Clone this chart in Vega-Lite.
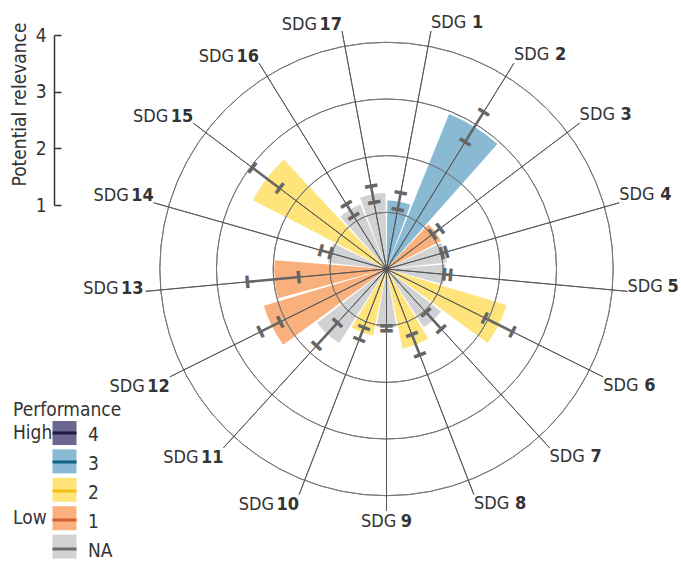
{
 "$schema": "https://vega.github.io/schema/vega-lite/v6.json",
 "width": 589, "height": 538,
 "autosize": {"type": "none"},
 "padding": {"left": 92, "top": 0, "right": 0, "bottom": 24},
 "background": "white",
 "config": {"view": {"stroke": null}},
 "datasets": {
  "sdgs": [
   {"sdg":1,"t0":0,"perf":"3","rel":1.21,"lo":1.05,"hi":1.35},
   {"sdg":2,"t0":1,"perf":"3","rel":2.95,"lo":2.62,"hi":3.24},
   {"sdg":3,"t0":2,"perf":"1","rel":1.08,"lo":1.0,"hi":1.17},
   {"sdg":4,"t0":3,"perf":"NA","rel":1.07,"lo":1.0,"hi":1.08},
   {"sdg":5,"t0":4,"perf":"NA","rel":1.04,"lo":1.01,"hi":1.12},
   {"sdg":6,"t0":5,"perf":"2","rel":2.21,"lo":1.92,"hi":2.47},
   {"sdg":7,"t0":6,"perf":"NA","rel":1.22,"lo":1.02,"hi":1.42},
   {"sdg":8,"t0":7,"perf":"2","rel":1.43,"lo":1.22,"hi":1.61},
   {"sdg":9,"t0":8,"perf":"NA","rel":1.04,"lo":0.98,"hi":1.07},
   {"sdg":10,"t0":9,"perf":"2","rel":1.2,"lo":1.09,"hi":1.32},
   {"sdg":11,"t0":10,"perf":"NA","rel":1.55,"lo":1.27,"hi":1.82},
   {"sdg":12,"t0":11,"perf":"1","rel":2.26,"lo":2.08,"hi":2.47},
   {"sdg":13,"t0":12,"perf":"1","rel":1.98,"lo":1.54,"hi":2.45},
   {"sdg":14,"t0":13,"perf":"NA","rel":1.04,"lo":1.01,"hi":1.19},
   {"sdg":15,"t0":14,"perf":"2","rel":2.65,"lo":2.35,"hi":2.95},
   {"sdg":16,"t0":15,"perf":"NA","rel":1.23,"lo":1.08,"hi":1.33},
   {"sdg":17,"t0":16,"perf":"NA","rel":1.34,"lo":1.18,"hi":1.47}
  ],
  "rings": [{"r":1},{"r":2},{"r":3},{"r":4}],
  "levels": [{"perf":"4"},{"perf":"3"},{"perf":"2"},{"perf":"1"},{"perf":"NA"}]
 },
 "resolve": {"scale": {"theta": "independent"}},
 "layer": [
  {
   "data": {"name": "sdgs"},
   "mark": {"type": "arc", "padAngle": 0.028},
   "encoding": {
    "theta": {"field": "t0", "type": "quantitative", "stack": null, "scale": {"domain": [0, 17]}},
    "theta2": {"field": "sdg"},
    "radius": {"field": "rel", "type": "quantitative", "scale": {"type": "linear", "domain": [0, 4], "range": [0, 226.7], "zero": true, "nice": false}},
    "fill": {"field": "perf", "type": "nominal",
     "scale": {"domain": ["4","3","2","1","NA"], "range": ["#6b6791","#89b9d3","#fee47a","#f9b07c","#d1d2d4"]},
     "legend": {"title": "Performance", "orient": "none", "legendX": -79, "legendY": 401, "padding": 0,
      "symbolType": "square", "symbolSize": 576, "symbolStrokeColor": "transparent", "symbolStrokeWidth": 0, "symbolOffset": 39.5,
      "labelExpr": "datum.label == '4' ? 'High' : datum.label == '1' ? 'Low' : ''",
      "labelOffset": -63.5, "labelFontSize": 19, "labelFont": "Liberation Sans Narrow, Arial Narrow, DejaVu Sans Condensed, sans-serif", "labelColor": "#333",
      "titleFontSize": 19, "titleFont": "Liberation Sans Narrow, Arial Narrow, DejaVu Sans Condensed, sans-serif", "titleFontWeight": "normal", "titleColor": "#333", "titlePadding": 1,
      "rowPadding": 4.4}}
   }
  },
  {
   "data": {"name": "rings"},
   "mark": {"type": "arc", "fill": "transparent", "stroke": "#777", "strokeWidth": 1},
   "encoding": {
    "theta": {"datum": 0, "type": "quantitative", "scale": {"domain": [0, 17]}},
    "theta2": {"datum": 17},
    "radius": {"field": "r", "type": "quantitative"},
    "radius2": {"field": "r"}
   }
  },
  {
   "data": {"name": "rings"},
   "mark": {"type": "point", "opacity": 0},
   "encoding": {
    "y": {"field": "r", "type": "quantitative", "scale": {"domain": [1, 4], "range": [205, 35], "zero": false, "nice": false},
     "axis": {"orient": "left", "offset": 38, "values": [1,2,3,4], "format": "d", "grid": false,
      "tickSize": -7, "tickWidth": 1.5, "tickColor": "#333", "domainColor": "#333", "domainWidth": 1.5,
      "labelFontSize": 19, "labelFont": "Liberation Sans Narrow, Arial Narrow, DejaVu Sans Condensed, sans-serif", "labelColor": "#333", "labelPadding": 15,
      "title": "Potential relevance", "titleY": 104, "titleFontSize": 19, "titleFont": "Liberation Sans Narrow, Arial Narrow, DejaVu Sans Condensed, sans-serif", "titleFontWeight": "normal", "titleColor": "#333", "titlePadding": 6}}
   }
  },
  {
   "data": {"name": "levels"},
   "mark": {"type": "point", "opacity": 0, "filled": false},
   "encoding": {
    "stroke": {"field": "perf", "type": "nominal", "sort": ["4","3","2","1","NA"],
     "scale": {"range": ["#1e1a40","#11608a","#f4bd12","#d2602e","#6d6d6d"]},
     "legend": {"title": "Performance", "titleOpacity": 0, "orient": "none", "legendX": -79, "legendY": 401, "padding": 0,
      "symbolType": "M-1,-0.183H1", "symbolSize": 576, "symbolStrokeWidth": 3, "symbolOffset": 38, "symbolOpacity": 1, "symbolFillColor": "transparent",
      "labelOffset": 10, "labelFontSize": 19, "labelFont": "Liberation Sans Narrow, Arial Narrow, DejaVu Sans Condensed, sans-serif", "labelColor": "#333",
      "titleFontSize": 19, "titleFont": "Liberation Sans Narrow, Arial Narrow, DejaVu Sans Condensed, sans-serif", "titleFontWeight": "normal", "titlePadding": 1,
      "clipHeight": 28.4, "rowPadding": 0}}
   }
  },
  {
   "data": {"name": "sdgs"},
   "mark": {"type": "arc", "filled": false, "stroke": "#555", "strokeWidth": 0.9},
   "encoding": {
    "theta": {"field": "sdg", "type": "quantitative", "stack": null, "scale": {"domain": [0.5, 17.5]}},
    "theta2": {"field": "sdg"},
    "radius": {"datum": 4.27, "type": "quantitative"}
   }
  },
  {
   "data": {"name": "sdgs"},
   "mark": {"type": "arc", "filled": false, "stroke": "#666", "strokeWidth": 2.6},
   "encoding": {
    "theta": {"field": "sdg", "type": "quantitative", "stack": null, "scale": {"domain": [0.5, 17.5]}},
    "theta2": {"field": "sdg"},
    "radius": {"field": "hi", "type": "quantitative"},
    "radius2": {"field": "lo"}
   }
  },
  {
   "data": {"name": "sdgs"},
   "mark": {"type": "text", "text": "━", "font": "DejaVu Sans Mono", "fontSize": 20, "color": "#666", "align": "center", "baseline": "middle"},
   "encoding": {
    "theta": {"field": "sdg", "type": "quantitative", "stack": null, "scale": {"domain": [0.5, 17.5]}},
    "radius": {"field": "lo", "type": "quantitative"},
    "angle": {"field": "sdg", "type": "quantitative", "scale": {"domain": [0.5, 17.5], "range": [0, 360]}, "legend": null}
   }
  },
  {
   "data": {"name": "sdgs"},
   "mark": {"type": "text", "text": "━", "font": "DejaVu Sans Mono", "fontSize": 20, "color": "#666", "align": "center", "baseline": "middle"},
   "encoding": {
    "theta": {"field": "sdg", "type": "quantitative", "stack": null, "scale": {"domain": [0.5, 17.5]}},
    "radius": {"field": "hi", "type": "quantitative"},
    "angle": {"field": "sdg", "type": "quantitative", "scale": {"domain": [0.5, 17.5], "range": [0, 360]}, "legend": null}
   }
  },
  {
   "data": {"name": "sdgs"}, "transform": [{"filter": "datum.sdg >= 1 && datum.sdg <= 4"}],
   "mark": {"type": "text", "text": "SDG", "align": "left", "baseline": "alphabetic", "dy": -3, "dx": 0, "font": "Liberation Sans Narrow, Arial Narrow, DejaVu Sans Condensed, sans-serif", "fontSize": 18, "color": "#333"},
   "encoding": {"theta": {"field": "sdg", "type": "quantitative", "stack": null, "scale": {"domain": [0.5, 17.5]}}, "radius": {"datum": 4.27, "type": "quantitative"}}
  },
  {
   "data": {"name": "sdgs"}, "transform": [{"filter": "datum.sdg >= 1 && datum.sdg <= 4"}],
   "mark": {"type": "text", "align": "left", "baseline": "alphabetic", "dy": -3, "dx": 41, "font": "Liberation Sans Narrow, Arial Narrow, DejaVu Sans Condensed, sans-serif", "fontSize": 18, "fontWeight": "bold", "color": "#333"},
   "encoding": {"theta": {"field": "sdg", "type": "quantitative", "stack": null, "scale": {"domain": [0.5, 17.5]}}, "radius": {"datum": 4.27, "type": "quantitative"}, "text": {"field": "sdg", "type": "nominal"}}
  },
  {
   "data": {"name": "sdgs"}, "transform": [{"filter": "datum.sdg == 5"}],
   "mark": {"type": "text", "text": "SDG", "align": "left", "baseline": "middle", "dy": -4, "dx": 0, "font": "Liberation Sans Narrow, Arial Narrow, DejaVu Sans Condensed, sans-serif", "fontSize": 18, "color": "#333"},
   "encoding": {"theta": {"field": "sdg", "type": "quantitative", "stack": null, "scale": {"domain": [0.5, 17.5]}}, "radius": {"datum": 4.27, "type": "quantitative"}}
  },
  {
   "data": {"name": "sdgs"}, "transform": [{"filter": "datum.sdg == 5"}],
   "mark": {"type": "text", "align": "left", "baseline": "middle", "dy": -4, "dx": 40, "font": "Liberation Sans Narrow, Arial Narrow, DejaVu Sans Condensed, sans-serif", "fontSize": 18, "fontWeight": "bold", "color": "#333"},
   "encoding": {"theta": {"field": "sdg", "type": "quantitative", "stack": null, "scale": {"domain": [0.5, 17.5]}}, "radius": {"datum": 4.27, "type": "quantitative"}, "text": {"field": "sdg", "type": "nominal"}}
  },
  {
   "data": {"name": "sdgs"}, "transform": [{"filter": "datum.sdg >= 6 && datum.sdg <= 8"}],
   "mark": {"type": "text", "text": "SDG", "align": "left", "baseline": "top", "dy": 0, "dx": 0, "font": "Liberation Sans Narrow, Arial Narrow, DejaVu Sans Condensed, sans-serif", "fontSize": 18, "color": "#333"},
   "encoding": {"theta": {"field": "sdg", "type": "quantitative", "stack": null, "scale": {"domain": [0.5, 17.5]}}, "radius": {"datum": 4.27, "type": "quantitative"}}
  },
  {
   "data": {"name": "sdgs"}, "transform": [{"filter": "datum.sdg >= 6 && datum.sdg <= 8"}],
   "mark": {"type": "text", "align": "left", "baseline": "top", "dy": 0, "dx": 41, "font": "Liberation Sans Narrow, Arial Narrow, DejaVu Sans Condensed, sans-serif", "fontSize": 18, "fontWeight": "bold", "color": "#333"},
   "encoding": {"theta": {"field": "sdg", "type": "quantitative", "stack": null, "scale": {"domain": [0.5, 17.5]}}, "radius": {"datum": 4.27, "type": "quantitative"}, "text": {"field": "sdg", "type": "nominal"}}
  },
  {
   "data": {"name": "sdgs"}, "transform": [{"filter": "datum.sdg == 9"}],
   "mark": {"type": "text", "text": "SDG", "align": "left", "baseline": "top", "dy": 2, "dx": -25.5, "font": "Liberation Sans Narrow, Arial Narrow, DejaVu Sans Condensed, sans-serif", "fontSize": 18, "color": "#333"},
   "encoding": {"theta": {"field": "sdg", "type": "quantitative", "stack": null, "scale": {"domain": [0.5, 17.5]}}, "radius": {"datum": 4.27, "type": "quantitative"}}
  },
  {
   "data": {"name": "sdgs"}, "transform": [{"filter": "datum.sdg == 9"}],
   "mark": {"type": "text", "align": "right", "baseline": "top", "dy": 2, "dx": 25.5, "font": "Liberation Sans Narrow, Arial Narrow, DejaVu Sans Condensed, sans-serif", "fontSize": 18, "fontWeight": "bold", "color": "#333"},
   "encoding": {"theta": {"field": "sdg", "type": "quantitative", "stack": null, "scale": {"domain": [0.5, 17.5]}}, "radius": {"datum": 4.27, "type": "quantitative"}, "text": {"field": "sdg", "type": "nominal"}}
  },
  {
   "data": {"name": "sdgs"}, "transform": [{"filter": "datum.sdg >= 10 && datum.sdg <= 12"}],
   "mark": {"type": "text", "text": "SDG", "align": "right", "baseline": "top", "dy": 1, "dx": -25, "font": "Liberation Sans Narrow, Arial Narrow, DejaVu Sans Condensed, sans-serif", "fontSize": 18, "color": "#333"},
   "encoding": {"theta": {"field": "sdg", "type": "quantitative", "stack": null, "scale": {"domain": [0.5, 17.5]}}, "radius": {"datum": 4.27, "type": "quantitative"}}
  },
  {
   "data": {"name": "sdgs"}, "transform": [{"filter": "datum.sdg >= 10 && datum.sdg <= 12"}],
   "mark": {"type": "text", "align": "right", "baseline": "top", "dy": 1, "dx": 0, "font": "Liberation Sans Narrow, Arial Narrow, DejaVu Sans Condensed, sans-serif", "fontSize": 18, "fontWeight": "bold", "color": "#333"},
   "encoding": {"theta": {"field": "sdg", "type": "quantitative", "stack": null, "scale": {"domain": [0.5, 17.5]}}, "radius": {"datum": 4.27, "type": "quantitative"}, "text": {"field": "sdg", "type": "nominal"}}
  },
  {
   "data": {"name": "sdgs"}, "transform": [{"filter": "datum.sdg == 13"}],
   "mark": {"type": "text", "text": "SDG", "align": "right", "baseline": "middle", "dy": -2.5, "dx": -27, "font": "Liberation Sans Narrow, Arial Narrow, DejaVu Sans Condensed, sans-serif", "fontSize": 18, "color": "#333"},
   "encoding": {"theta": {"field": "sdg", "type": "quantitative", "stack": null, "scale": {"domain": [0.5, 17.5]}}, "radius": {"datum": 4.27, "type": "quantitative"}}
  },
  {
   "data": {"name": "sdgs"}, "transform": [{"filter": "datum.sdg == 13"}],
   "mark": {"type": "text", "align": "right", "baseline": "middle", "dy": -2.5, "dx": -2, "font": "Liberation Sans Narrow, Arial Narrow, DejaVu Sans Condensed, sans-serif", "fontSize": 18, "fontWeight": "bold", "color": "#333"},
   "encoding": {"theta": {"field": "sdg", "type": "quantitative", "stack": null, "scale": {"domain": [0.5, 17.5]}}, "radius": {"datum": 4.27, "type": "quantitative"}, "text": {"field": "sdg", "type": "nominal"}}
  },
  {
   "data": {"name": "sdgs"}, "transform": [{"filter": "datum.sdg >= 14"}],
   "mark": {"type": "text", "text": "SDG", "align": "right", "baseline": "alphabetic", "dy": -1.5, "dx": -25, "font": "Liberation Sans Narrow, Arial Narrow, DejaVu Sans Condensed, sans-serif", "fontSize": 18, "color": "#333"},
   "encoding": {"theta": {"field": "sdg", "type": "quantitative", "stack": null, "scale": {"domain": [0.5, 17.5]}}, "radius": {"datum": 4.27, "type": "quantitative"}}
  },
  {
   "data": {"name": "sdgs"}, "transform": [{"filter": "datum.sdg >= 14"}],
   "mark": {"type": "text", "align": "right", "baseline": "alphabetic", "dy": -1.5, "dx": 0, "font": "Liberation Sans Narrow, Arial Narrow, DejaVu Sans Condensed, sans-serif", "fontSize": 18, "fontWeight": "bold", "color": "#333"},
   "encoding": {"theta": {"field": "sdg", "type": "quantitative", "stack": null, "scale": {"domain": [0.5, 17.5]}}, "radius": {"datum": 4.27, "type": "quantitative"}, "text": {"field": "sdg", "type": "nominal"}}
  }
 ]
}
